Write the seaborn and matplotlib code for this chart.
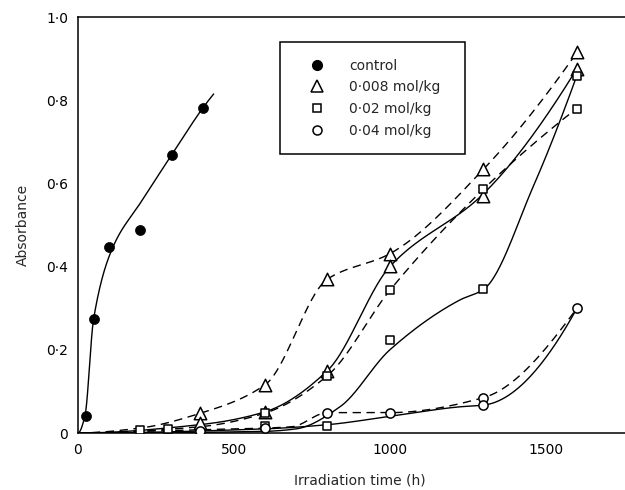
import numpy as np
import pandas as pd
import matplotlib
matplotlib.use("Agg")
import matplotlib.pyplot as plt
from matplotlib.lines import Line2D
import seaborn as sns

# ---------------- data ----------------
# measured points
ctrl_x = [25, 50, 100, 200, 300, 400]
ctrl_y = [0.042, 0.274, 0.447, 0.489, 0.668, 0.781]

tri_x = [390, 390, 600, 600, 800, 800, 1000, 1000, 1300, 1300, 1600, 1600]
tri_y = [0.047, 0.025, 0.116, 0.051, 0.370, 0.150, 0.431, 0.401, 0.634, 0.569, 0.915, 0.876]

sq_x = [200, 290, 600, 600, 800, 800, 1000, 1000, 1300, 1300, 1600, 1600]
sq_y = [0.007, 0.010, 0.048, 0.018, 0.138, 0.017, 0.343, 0.224, 0.586, 0.345, 0.859, 0.780]

circ_x = [390, 600, 800, 1000, 1300, 1300, 1600]
circ_y = [0.006, 0.012, 0.049, 0.049, 0.085, 0.067, 0.300]

# hand-drawn fitted curves (knots)
fit_ctrl_x = [0, 22, 50, 112, 200, 300, 400, 435]
fit_ctrl_y = [0.0, 0.040, 0.274, 0.447, 0.553, 0.668, 0.781, 0.815]

fit_tri_dash_x = [0, 200, 390, 600, 800, 1000, 1300, 1600]
fit_tri_dash_y = [0.0, 0.012, 0.047, 0.116, 0.370, 0.431, 0.634, 0.915]

fit_tri_solid_x = [0, 390, 600, 800, 1000, 1300, 1600]
fit_tri_solid_y = [0.0, 0.020, 0.051, 0.150, 0.400, 0.575, 0.876]

fit_sq_dash_x = [0, 390, 600, 800, 1000, 1300, 1555, 1600]
fit_sq_dash_y = [0.0, 0.015, 0.048, 0.138, 0.343, 0.586, 0.754, 0.780]

fit_sq_solid_x = [0, 600, 700, 840, 1000, 1225, 1300, 1460, 1600]
fit_sq_solid_y = [0.0, 0.004, 0.010, 0.063, 0.200, 0.320, 0.345, 0.593, 0.860]

fit_circ_dash_x = [0, 390, 685, 800, 1000, 1300, 1600]
fit_circ_dash_y = [0.0, 0.008, 0.015, 0.049, 0.049, 0.085, 0.300]

fit_circ_solid_x = [0, 600, 800, 1000, 1225, 1300, 1600]
fit_circ_solid_y = [0.0, 0.010, 0.020, 0.040, 0.063, 0.067, 0.300]

legend_labels = ["control", "0\u00b7008 mol/kg", "0\u00b702 mol/kg", "0\u00b704 mol/kg"]
x_ticks = [0, 500, 1000, 1500]
y_ticks = [0, 0.2, 0.4, 0.6, 0.8, 1.0]
y_tick_labels = ["0", "0\u00b72", "0\u00b74", "0\u00b76", "0\u00b78", "1\u00b70"]


# ---------------- smoothing helper (monotone cubic) ----------------
def pchip(x, y, n=300):
    x = np.asarray(x, float)
    y = np.asarray(y, float)
    h = np.diff(x)
    d = np.diff(y) / h
    m = np.zeros_like(x)
    for k in range(1, len(x) - 1):
        if d[k - 1] * d[k] <= 0:
            m[k] = 0.0
        else:
            w1 = 2 * h[k] + h[k - 1]
            w2 = h[k] + 2 * h[k - 1]
            m[k] = (w1 + w2) / (w1 / d[k - 1] + w2 / d[k])

    def end(h0, h1, d0, d1):
        mm = ((2 * h0 + h1) * d0 - h0 * d1) / (h0 + h1)
        if np.sign(mm) != np.sign(d0):
            mm = 0.0
        elif np.sign(d0) != np.sign(d1) and abs(mm) > abs(3 * d0):
            mm = 3 * d0
        return mm

    if len(x) > 2:
        m[0] = end(h[0], h[1], d[0], d[1])
        m[-1] = end(h[-1], h[-2], d[-1], d[-2])
    else:
        m[:] = d[0]
    xs = np.linspace(x[0], x[-1], n)
    idx = np.clip(np.searchsorted(x, xs) - 1, 0, len(x) - 2)
    t = (xs - x[idx]) / h[idx]
    h00 = 2 * t**3 - 3 * t**2 + 1
    h10 = t**3 - 2 * t**2 + t
    h01 = -2 * t**3 + 3 * t**2
    h11 = t**3 - t**2
    ys = h00 * y[idx] + h10 * h[idx] * m[idx] + h01 * y[idx + 1] + h11 * h[idx] * m[idx + 1]
    return xs, ys


# ---------------- figure ----------------
sns.set_style("white")
plt.rcParams["font.family"] = ["DejaVu Sans"]

fig = plt.figure(figsize=(6.25, 4.9), dpi=100)
ax = fig.add_axes([0.1248, 0.1163, 0.8752, 0.849])

curves = [
    (fit_ctrl_x, fit_ctrl_y, "-"),
    (fit_tri_dash_x, fit_tri_dash_y, "--"),
    (fit_tri_solid_x, fit_tri_solid_y, "-"),
    (fit_sq_dash_x, fit_sq_dash_y, "--"),
    (fit_sq_solid_x, fit_sq_solid_y, "-"),
    (fit_circ_dash_x, fit_circ_dash_y, "--"),
    (fit_circ_solid_x, fit_circ_solid_y, "-"),
]
for cx, cy, ls in curves:
    xs, ys = pchip(cx, cy)
    df = pd.DataFrame({"t": xs, "a": ys})
    sns.lineplot(data=df, x="t", y="a", ax=ax, color="black", lw=1.0,
                 sort=False, estimator=None)
    if ls == "--":
        ax.lines[-1].set_dashes((6, 4))

sns.scatterplot(x=ctrl_x, y=ctrl_y, ax=ax, marker="o", s=52, color="black",
                edgecolor="black", linewidth=0.5, zorder=5)
sns.scatterplot(x=tri_x, y=tri_y, ax=ax, marker="^", s=80, facecolor="white",
                edgecolor="black", linewidth=1.1, zorder=5)
sns.scatterplot(x=sq_x, y=sq_y, ax=ax, marker="s", s=36, facecolor="white",
                edgecolor="black", linewidth=1.1, zorder=5)
sns.scatterplot(x=circ_x, y=circ_y, ax=ax, marker="o", s=44, facecolor="white",
                edgecolor="black", linewidth=1.1, zorder=5)

ax.set_xlim(0, 1754)
ax.set_ylim(0, 1.0)
ax.set_xticks(x_ticks)
ax.set_xticklabels([str(v) for v in x_ticks])
ax.set_yticks(y_ticks)
ax.set_yticklabels(y_tick_labels)
ax.tick_params(direction="in", length=5, width=1, colors="black",
               labelsize=10, pad=7)
for side in ["left", "bottom", "top"]:
    ax.spines[side].set_visible(True)
    ax.spines[side].set_color("black")
    ax.spines[side].set_linewidth(1.1)
ax.spines["right"].set_visible(False)

ax.set_xlabel("Irradiation time (h)", fontsize=10)
ax.xaxis.set_label_coords(0.515, -0.097)
ax.set_ylabel("Absorbance", fontsize=10, labelpad=12)

handles = [
    Line2D([], [], ls="none", marker="o", ms=7, mfc="black", mec="black"),
    Line2D([], [], ls="none", marker="^", ms=9, mfc="white", mec="black", mew=1.1),
    Line2D([], [], ls="none", marker="s", ms=6, mfc="white", mec="black", mew=1.1),
    Line2D([], [], ls="none", marker="o", ms=6.5, mfc="white", mec="black", mew=1.1),
]
leg = ax.legend(handles, legend_labels, loc="upper left",
                bbox_to_anchor=(0.369, 0.673, 0.338, 0.267), mode="expand",
                borderaxespad=0, frameon=True,
                fancybox=False, framealpha=1, edgecolor="black", fontsize=10,
                borderpad=1.2, handlelength=3, handletextpad=0.8,
                labelspacing=0.55)
leg.get_frame().set_linewidth(1.1)

fig.savefig("out.png", dpi=100)
